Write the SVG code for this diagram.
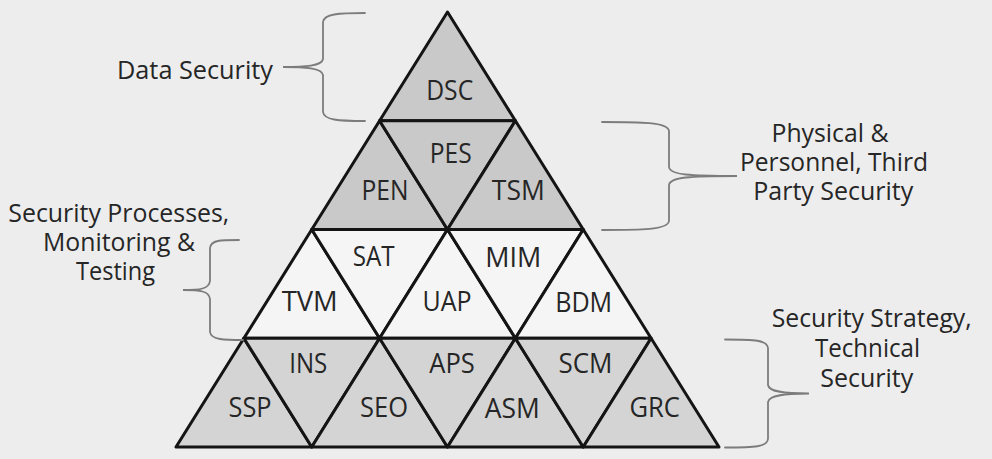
<svg xmlns="http://www.w3.org/2000/svg" width="992" height="459" viewBox="0 0 992 459">
<defs>
<style>
.t-dark{fill:#c9c9c9}
.t-mid{fill:#f5f5f5}
.t-low{fill:#d4d4d4}
.tri{stroke:#141414;stroke-width:3;stroke-linejoin:round}
.lbl{font-family:"Open Sans","Liberation Sans",sans-serif;font-size:27px;fill:#262626;text-anchor:middle}
.side{font-family:"Open Sans","Liberation Sans",sans-serif;font-size:25px;fill:#262626;text-anchor:middle}
.brace{fill:none;stroke:#7c7c7c;stroke-width:1.8;stroke-linecap:round}
</style>
</defs>
<rect x="0" y="0" width="992" height="459" fill="#ededed"/>

<g id="DSC"><polygon class="tri t-dark" points="447.5,12 379.6,120.75 515.4,120.75"/><text class="lbl" x="449.7" y="100" textLength="47" lengthAdjust="spacingAndGlyphs">DSC</text></g>

<g id="PEN"><polygon class="tri t-dark" points="379.6,120.75 311.75,229.5 447.5,229.5"/><text class="lbl" x="385" y="200" textLength="47" lengthAdjust="spacingAndGlyphs">PEN</text></g>
<g id="PES"><polygon class="tri t-dark" points="379.6,120.75 515.4,120.75 447.5,229.5"/><text class="lbl" x="450.7" y="163" textLength="42" lengthAdjust="spacingAndGlyphs">PES</text></g>
<g id="TSM"><polygon class="tri t-dark" points="515.4,120.75 447.5,229.5 583.25,229.5"/><text class="lbl" x="518.3" y="200" textLength="53" lengthAdjust="spacingAndGlyphs">TSM</text></g>

<g id="TVM"><polygon class="tri t-mid" points="311.75,229.5 243.9,338.25 379.6,338.25"/><text class="lbl" x="309.7" y="311" textLength="56" lengthAdjust="spacingAndGlyphs">TVM</text></g>
<g id="SAT"><polygon class="tri t-mid" points="311.75,229.5 447.5,229.5 379.6,338.25"/><text class="lbl" x="373.7" y="266" textLength="42" lengthAdjust="spacingAndGlyphs">SAT</text></g>
<g id="UAP"><polygon class="tri t-mid" points="447.5,229.5 379.6,338.25 515.4,338.25"/><text class="lbl" x="447" y="311" textLength="49" lengthAdjust="spacingAndGlyphs">UAP</text></g>
<g id="MIM"><polygon class="tri t-mid" points="447.5,229.5 583.25,229.5 515.4,338.25"/><text class="lbl" x="513.3" y="267" textLength="56" lengthAdjust="spacingAndGlyphs">MIM</text></g>
<g id="BDM"><polygon class="tri t-mid" points="583.25,229.5 515.4,338.25 651.1,338.25"/><text class="lbl" x="583.7" y="311.5" textLength="57" lengthAdjust="spacingAndGlyphs">BDM</text></g>

<g id="SSP"><polygon class="tri t-low" points="243.9,338.25 176,447 311.75,447"/><text class="lbl" x="250" y="417.3" textLength="43" lengthAdjust="spacingAndGlyphs">SSP</text></g>
<g id="INS"><polygon class="tri t-low" points="243.9,338.25 379.6,338.25 311.75,447"/><text class="lbl" x="308.3" y="373.3" textLength="38" lengthAdjust="spacingAndGlyphs">INS</text></g>
<g id="SEO"><polygon class="tri t-low" points="379.6,338.25 311.75,447 447.5,447"/><text class="lbl" x="384" y="417.3" textLength="48" lengthAdjust="spacingAndGlyphs">SEO</text></g>
<g id="APS"><polygon class="tri t-low" points="379.6,338.25 515.4,338.25 447.5,447"/><text class="lbl" x="452" y="373.3" textLength="45.5" lengthAdjust="spacingAndGlyphs">APS</text></g>
<g id="ASM"><polygon class="tri t-low" points="515.4,338.25 447.5,447 583.25,447"/><text class="lbl" x="512.3" y="417.8" textLength="55" lengthAdjust="spacingAndGlyphs">ASM</text></g>
<g id="SCM"><polygon class="tri t-low" points="515.4,338.25 651.1,338.25 583.25,447"/><text class="lbl" x="585.5" y="373" textLength="54" lengthAdjust="spacingAndGlyphs">SCM</text></g>
<g id="GRC"><polygon class="tri t-low" points="651.1,338.25 583.25,447 719,447"/><text class="lbl" x="654.7" y="417.3" textLength="50.5" lengthAdjust="spacingAndGlyphs">GRC</text></g>

<g id="connectors">
<path class="brace" d="M365,13 C338,13 324,14 323,22 L323,59 C322,66 305,67 283,67 C305,67 322,68 323,75 L323,112 C324,120 338,121 365,121"/>
<path class="brace" d="M602,122 C640,122 668,122 669,131 L669,167 C670,175 690,176 737,176 C690,176 670,177 669,185 L669,221 C668,230 640,230 602,230"/>
<path class="brace" d="M239,240 C220,240 211,240 210,248 L210,281 C209,289 200,290 183,290 C200,290 209,291 210,299 L210,332 C211,340 225,340 243,340"/>
<path class="brace" d="M725,339.5 C755,339.5 767,340 768,348 L768,385 C769,392 785,393.5 809,393.5 C785,393.5 769,395 768,402 L768,439 C767,447 755,447.5 725,447.5"/>
</g>

<g id="label-data">
<text class="side" x="195" y="79" textLength="156" lengthAdjust="spacingAndGlyphs">Data Security</text>
</g>
<g id="label-physical">
<text class="side" x="830" y="141.7" textLength="117" lengthAdjust="spacingAndGlyphs">Physical &amp;</text>
<text class="side" x="834" y="171" textLength="188" lengthAdjust="spacingAndGlyphs">Personnel, Third</text>
<text class="side" x="833.3" y="200" textLength="160" lengthAdjust="spacingAndGlyphs">Party Security</text>
</g>
<g id="label-processes">
<text class="side" x="118.8" y="221.7" textLength="221" lengthAdjust="spacingAndGlyphs">Security Processes,</text>
<text class="side" x="119" y="251" textLength="152" lengthAdjust="spacingAndGlyphs">Monitoring &amp;</text>
<text class="side" x="115.5" y="280" textLength="79" lengthAdjust="spacingAndGlyphs">Testing</text>
</g>
<g id="label-strategy">
<text class="side" x="871.7" y="326.7" textLength="200" lengthAdjust="spacingAndGlyphs">Security Strategy,</text>
<text class="side" x="867.5" y="356.7" textLength="105" lengthAdjust="spacingAndGlyphs">Technical</text>
<text class="side" x="866.7" y="387" textLength="93" lengthAdjust="spacingAndGlyphs">Security</text>
</g>
</svg>
